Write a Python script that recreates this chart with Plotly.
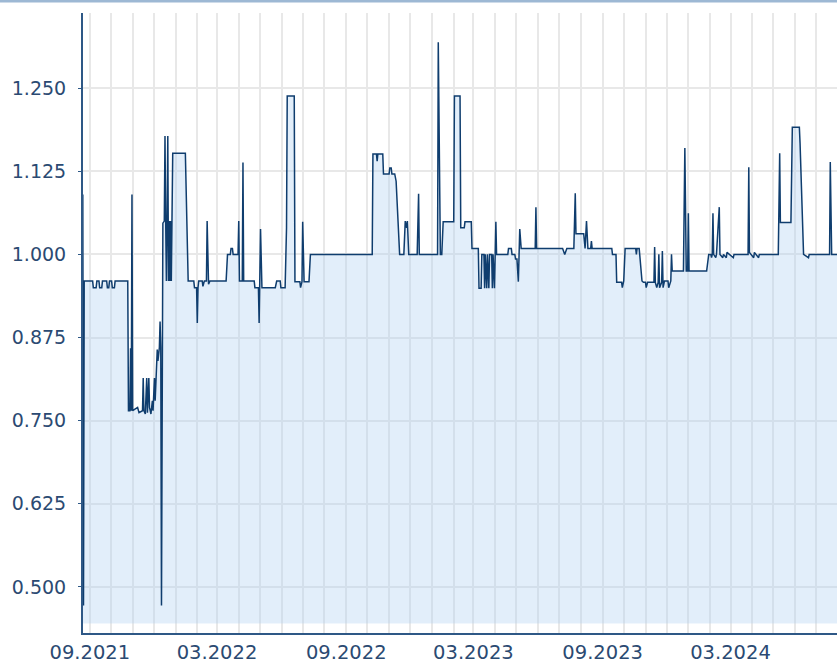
import plotly.graph_objects as go

# ---- data ----
DATES = [
    "2021-08-22", "2021-08-23", "2021-08-24", "2021-09-05", "2021-09-06", "2021-09-10", "2021-09-11",
    "2021-09-14", "2021-09-15", "2021-09-18", "2021-09-19", "2021-09-25", "2021-09-26", "2021-09-28",
    "2021-09-29", "2021-10-02", "2021-10-03", "2021-10-06", "2021-10-07", "2021-10-25", "2021-10-26",
    "2021-10-28", "2021-10-29", "2021-10-30", "2021-10-31", "2021-11-01", "2021-11-08", "2021-11-10",
    "2021-11-15", "2021-11-16", "2021-11-17", "2021-11-19", "2021-11-21", "2021-11-22", "2021-11-24",
    "2021-11-25", "2021-11-27", "2021-11-29", "2021-11-30", "2021-12-02", "2021-12-03", "2021-12-05",
    "2021-12-06", "2021-12-07", "2021-12-09", "2021-12-10", "2021-12-11", "2021-12-12", "2021-12-14",
    "2021-12-16", "2021-12-17", "2021-12-18", "2021-12-19", "2021-12-20", "2021-12-21", "2021-12-22",
    "2021-12-23", "2021-12-24", "2021-12-25", "2021-12-26", "2021-12-28", "2022-01-15", "2022-01-17",
    "2022-01-19", "2022-01-27", "2022-01-28", "2022-01-31", "2022-02-01", "2022-02-02", "2022-02-03",
    "2022-02-08", "2022-02-09", "2022-02-11", "2022-02-14", "2022-02-15", "2022-02-16", "2022-02-17",
    "2022-02-19", "2022-03-14", "2022-03-16", "2022-03-20", "2022-03-21", "2022-03-23", "2022-03-24",
    "2022-03-31", "2022-04-01", "2022-04-02", "2022-04-06", "2022-04-07", "2022-04-08", "2022-04-23",
    "2022-04-24", "2022-04-29", "2022-04-30", "2022-05-02", "2022-05-04", "2022-05-23", "2022-05-25",
    "2022-05-30", "2022-05-31", "2022-06-06", "2022-06-08", "2022-06-09", "2022-06-19", "2022-06-20",
    "2022-06-27", "2022-06-28", "2022-06-30", "2022-07-01", "2022-07-03", "2022-07-10", "2022-07-12",
    "2022-10-08", "2022-10-09", "2022-10-14", "2022-10-15", "2022-10-16", "2022-10-23", "2022-10-24",
    "2022-11-01", "2022-11-02", "2022-11-04", "2022-11-05", "2022-11-09", "2022-11-11", "2022-11-16",
    "2022-11-22", "2022-11-24", "2022-11-26", "2022-11-27", "2022-11-29", "2022-12-11", "2022-12-12",
    "2022-12-13", "2022-12-14", "2023-01-09", "2023-01-10", "2023-01-13", "2023-01-15", "2023-01-17",
    "2023-02-01", "2023-02-02", "2023-02-10", "2023-02-11", "2023-02-16", "2023-02-17", "2023-02-26",
    "2023-02-27", "2023-03-08", "2023-03-09", "2023-03-12", "2023-03-13", "2023-03-16", "2023-03-17",
    "2023-03-18", "2023-03-20", "2023-03-21", "2023-03-23", "2023-03-24", "2023-03-27", "2023-03-28",
    "2023-03-29", "2023-03-31", "2023-04-01", "2023-04-02", "2023-04-03", "2023-04-19", "2023-04-20",
    "2023-04-24", "2023-04-25", "2023-04-29", "2023-04-30", "2023-05-02", "2023-05-04", "2023-05-06",
    "2023-05-08", "2023-05-28", "2023-05-29", "2023-05-30", "2023-07-06", "2023-07-09", "2023-07-12",
    "2023-07-22", "2023-07-24", "2023-07-25", "2023-08-05", "2023-08-07", "2023-08-09", "2023-08-11",
    "2023-08-15", "2023-08-16", "2023-08-17", "2023-09-14", "2023-09-15", "2023-09-20", "2023-09-21",
    "2023-09-28", "2023-09-29", "2023-10-01", "2023-10-03", "2023-10-18", "2023-10-19", "2023-10-20",
    "2023-10-23", "2023-10-27", "2023-10-29", "2023-11-01", "2023-11-02", "2023-11-04", "2023-11-13",
    "2023-11-14", "2023-11-15", "2023-11-17", "2023-11-19", "2023-11-20", "2023-11-21", "2023-11-24",
    "2023-11-25", "2023-11-26", "2023-11-28", "2023-12-03", "2023-12-04", "2023-12-07", "2023-12-08",
    "2023-12-09", "2023-12-25", "2023-12-27", "2023-12-29", "2023-12-31", "2024-01-01", "2024-01-02",
    "2024-01-27", "2024-01-30", "2024-02-02", "2024-02-03", "2024-02-04", "2024-02-05", "2024-02-06",
    "2024-02-09", "2024-02-10", "2024-02-14", "2024-02-15", "2024-02-19", "2024-02-20", "2024-02-24",
    "2024-02-25", "2024-03-05", "2024-03-06", "2024-03-26", "2024-03-27", "2024-03-28", "2024-04-03",
    "2024-04-04", "2024-04-10", "2024-04-11", "2024-05-08", "2024-05-10", "2024-05-11", "2024-05-26",
    "2024-05-28", "2024-06-07", "2024-06-08", "2024-06-13", "2024-06-20", "2024-06-21", "2024-07-20",
    "2024-07-21", "2024-07-23", "2024-07-31",
]
PRICES = [
    1.090, 0.472, 0.960, 0.960, 0.950, 0.950, 0.960,
    0.960, 0.950, 0.950, 0.960, 0.960, 0.950, 0.950,
    0.960, 0.960, 0.950, 0.950, 0.960, 0.960, 0.765,
    0.765, 0.859, 0.765, 1.090, 0.765, 0.770, 0.762,
    0.765, 0.814, 0.765, 0.760, 0.814, 0.762, 0.814,
    0.770, 0.760, 0.780, 0.765, 0.814, 0.780, 0.830,
    0.857, 0.840, 0.860, 0.899, 0.860, 0.472, 1.047,
    1.050, 1.178, 1.050, 0.960, 1.050, 1.178, 0.960,
    1.050, 0.960, 1.050, 0.960, 1.152, 1.152, 1.049,
    0.960, 0.960, 0.950, 0.950, 0.897, 0.950, 0.960,
    0.960, 0.952, 0.960, 0.960, 1.050, 0.960, 0.955,
    0.960, 0.960, 1.000, 1.000, 1.009, 1.009, 1.000,
    1.000, 1.050, 0.960, 0.960, 1.138, 0.960, 0.960,
    0.950, 0.950, 0.897, 1.038, 0.950, 0.950, 0.960,
    0.960, 0.950, 0.950, 1.040, 1.238, 1.238, 0.959,
    0.959, 0.950, 0.959, 1.049, 0.959, 0.959, 1.000,
    1.000, 1.151, 1.151, 1.140, 1.151, 1.151, 1.121,
    1.121, 1.130, 1.130, 1.121, 1.121, 1.110, 1.000,
    1.000, 1.050, 1.040, 1.050, 1.000, 1.000, 1.091,
    1.091, 1.000, 1.000, 1.319, 1.000, 1.000, 1.049,
    1.049, 1.238, 1.238, 1.040, 1.040, 1.049, 1.049,
    1.009, 1.009, 0.949, 0.949, 1.000, 1.000, 0.949,
    1.000, 0.949, 1.000, 0.949, 1.000, 1.000, 0.949,
    1.000, 0.949, 1.000, 1.049, 1.000, 1.000, 1.009,
    1.009, 1.000, 1.000, 0.993, 0.993, 0.959, 1.038,
    1.009, 1.009, 1.071, 1.009, 1.009, 1.000, 1.009,
    1.009, 1.092, 1.031, 1.031, 1.009, 1.050, 1.009,
    1.009, 1.020, 1.009, 1.009, 1.000, 1.000, 0.958,
    0.958, 0.950, 0.960, 1.009, 1.009, 1.000, 1.009,
    1.009, 0.960, 0.958, 0.958, 0.950, 0.958, 0.958,
    1.011, 0.958, 0.950, 0.958, 1.000, 0.950, 0.958,
    1.005, 0.950, 0.960, 0.960, 0.950, 0.960, 1.000,
    0.975, 0.975, 1.160, 0.975, 0.975, 1.062, 0.975,
    0.975, 1.000, 1.000, 0.995, 1.000, 1.062, 1.000,
    0.995, 1.000, 1.071, 1.000, 0.995, 1.000, 0.995,
    1.003, 0.995, 1.000, 1.000, 1.131, 1.003, 0.995,
    1.003, 0.995, 1.000, 1.000, 1.152, 1.048, 1.048,
    1.191, 1.191, 1.167, 1.000, 0.995, 1.000, 1.000,
    1.139, 1.000, 1.000,
]
Y_TICKS = [0.500, 0.625, 0.750, 0.875, 1.000, 1.125, 1.250]
X_RANGE = ["2021-08-22 07:00", "2024-07-30 14:00"]
Y_RANGE = [0.4308, 1.3629]
FILL_FLOOR = 0.445

# ---- style ----
LINE_COLOR = "#0f3d6e"
AXIS_COLOR = "#2e5886"
GRID_COLOR = "#e8e8e8"
TEXT_COLOR = "#2b4a72"
FONT = "DejaVu Sans"

fig = go.Figure()
fig.add_trace(go.Scatter(
    x=DATES, y=[FILL_FLOOR] * len(DATES), mode="lines",
    line=dict(width=0, color="rgba(0,0,0,0)"), hoverinfo="skip", showlegend=False,
))
fig.add_trace(go.Scatter(
    x=DATES, y=PRICES, mode="lines", fill="tonexty",
    fillcolor="rgba(170,205,240,0.34)",
    line=dict(color=LINE_COLOR, width=1.5), showlegend=False,
))

fig.update_layout(
    width=837, height=664,
    margin=dict(l=83, r=0, t=13, b=31, autoexpand=False),
    paper_bgcolor="white", plot_bgcolor="white",
    font=dict(family=FONT, color=TEXT_COLOR),
    showlegend=False,
    xaxis=dict(
        type="date", range=X_RANGE, automargin=False,
        dtick="M6", tick0="2021-09-01", tickformat="%m.%Y",
        showgrid=True, gridcolor=GRID_COLOR, gridwidth=2,
        minor=dict(dtick="M1", showgrid=True, gridcolor=GRID_COLOR, gridwidth=2, ticks=""),
        showline=True, linecolor=AXIS_COLOR, linewidth=2,
        ticks="", zeroline=False,
        tickfont=dict(size=19.5, color=TEXT_COLOR, family=FONT),
        ticklabelstandoff=1,
    ),
    yaxis=dict(
        range=Y_RANGE, tickvals=Y_TICKS, tickformat=".3f", automargin=False,
        showgrid=True, gridcolor=GRID_COLOR, gridwidth=2,
        showline=True, linecolor=AXIS_COLOR, linewidth=2,
        ticks="outside", ticklen=3, tickcolor=AXIS_COLOR, tickwidth=1,
        zeroline=False,
        tickfont=dict(size=19, color=TEXT_COLOR, family=FONT),
        ticklabelstandoff=8,
    ),
    shapes=[dict(
        type="line", xref="paper", yref="paper",
        x0=-83 / 754, x1=1, y0=1 + 11.7 / 620, y1=1 + 11.7 / 620,
        line=dict(color="#9db8d4", width=2.5),
    )],
)

fig.write_html(
    "out.html",
    config={"displayModeBar": False},
    post_script="document.body.style.margin='0';document.body.style.overflow='hidden';",
)
